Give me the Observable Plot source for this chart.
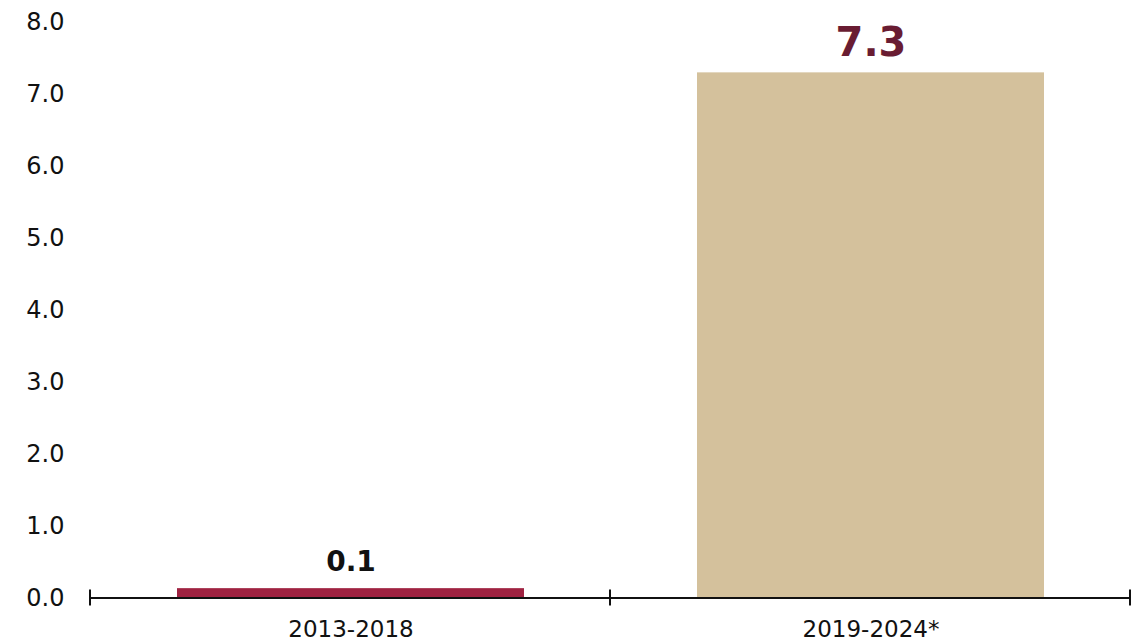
<!DOCTYPE html>
<html>
<head>
<meta charset="utf-8">
<script src="https://cdn.jsdelivr.net/npm/d3@7"></script>
<script src="https://cdn.jsdelivr.net/npm/@observablehq/plot@0.6"></script>
<style>
  html, body { margin: 0; padding: 0; background: #fff; }
  #chart svg { display: block; }
</style>
</head>
<body>
<div id="chart"></div>
<script>
const periods = ["2013-2018", "2019-2024*"];
const values = [0.13, 7.3];
const barColors = ["#9f2241", "#d4c19c"];
const labelColors = ["#111111", "#691c32"];
const yTicks = [0, 1, 2, 3, 4, 5, 6, 7, 8];

const data = periods.map((p, i) => ({period: p, value: values[i], color: barColors[i], lc: labelColors[i]}));
const FONT = "'DejaVu Sans', sans-serif";

const plot = Plot.plot({
  width: 1137,
  height: 643,
  marginLeft: 90,
  marginRight: 6,
  marginTop: 22,
  marginBottom: 45.5,
  style: {fontFamily: FONT, background: "#fff", color: "#111"},
  x: {domain: periods, paddingInner: 0.332, paddingOuter: 0.166, label: null},
  y: {domain: [0, 8], label: null},
  marks: [
    Plot.barY(data, {x: "period", y: "value", fill: "color"}),
    Plot.ruleY([0], {stroke: "#111", strokeWidth: 2}),
    Plot.axisY({ticks: yTicks, tickSize: 0, tickPadding: 26, tickFormat: d => d.toFixed(1), fontSize: 24, label: null, fill: "#111"}),
    Plot.axisX({tickSize: 0, tickPadding: 23, fontSize: 23, label: null, fill: "#111"}),
    Plot.text(data.filter((d, i) => i === 0), {x: "period", y: "value", text: d => d.value.toFixed(1), lineAnchor: "bottom", dy: -18, fontSize: 28, fontWeight: "bold", fill: "lc"}),
    Plot.text(data.filter((d, i) => i === 1), {x: "period", y: "value", text: d => d.value.toFixed(1), lineAnchor: "bottom", dy: -17, fontSize: 40, fontWeight: "bold", fill: "lc"})
  ]
});

// tick marks at the band edges, computed from Plot's own x and y scales
const xs = plot.scale("x");
const y0 = plot.scale("y").apply(0);
const edges = d3.range(periods.length + 1).map(k => xs.range[0] + k * xs.step);
d3.select(plot).append("g")
  .selectAll("line")
  .data(edges)
  .join("line")
  .attr("x1", d => d).attr("x2", d => d)
  .attr("y1", y0 - 8).attr("y2", y0 + 8)
  .attr("stroke", "#111").attr("stroke-width", 2);

document.getElementById("chart").appendChild(plot);
</script>
</body>
</html>
